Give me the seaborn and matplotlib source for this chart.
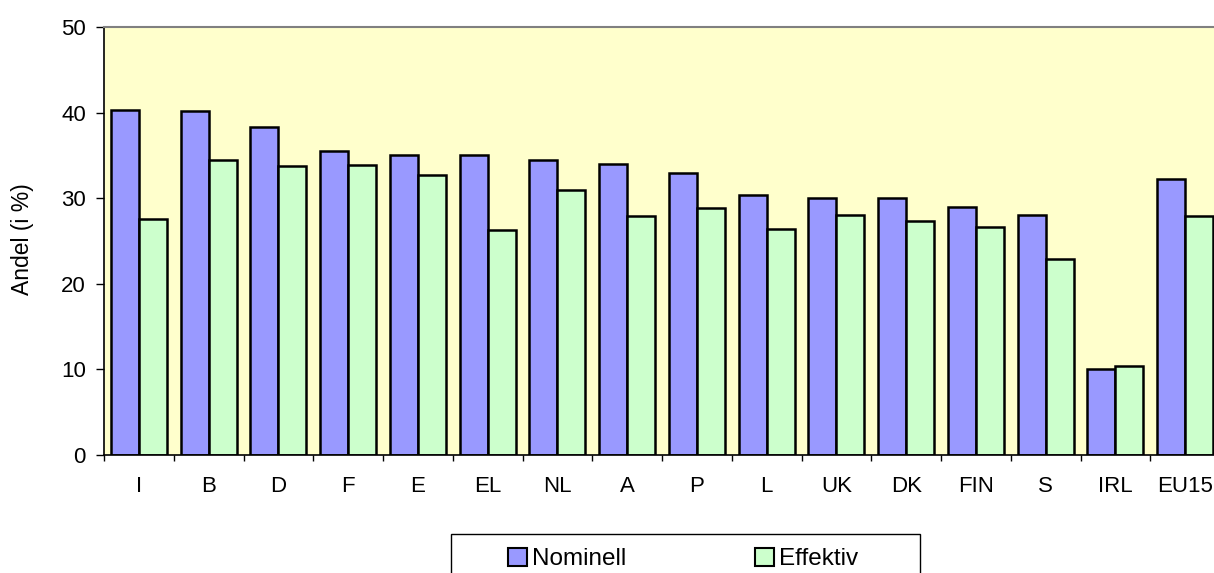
import matplotlib
matplotlib.use("Agg")
import matplotlib.pyplot as plt
from matplotlib.patches import Patch, Rectangle
from matplotlib.ticker import FixedLocator
import numpy as np
import pandas as pd
import seaborn as sns

# data
countries = ["I", "B", "D", "F", "E", "EL", "NL", "A", "P", "L", "UK", "DK", "FIN", "S", "IRL", "EU15"]
nominell = [40.3, 40.2, 38.3, 35.5, 35.0, 35.0, 34.5, 34.0, 33.0, 30.4, 30.0, 30.0, 29.0, 28.0, 10.0, 32.2]
effektiv = [27.6, 34.5, 33.8, 33.9, 32.7, 26.3, 30.9, 27.9, 28.8, 26.4, 28.0, 27.3, 26.6, 22.9, 10.4, 27.9]
series = ["Nominell", "Effektiv"]
colors = ["#9999FF", "#CCFFCC"]

df = pd.DataFrame({
    "land": countries * 2,
    "serie": [series[0]] * len(countries) + [series[1]] * len(countries),
    "andel": nominell + effektiv,
})

sns.set_style("white")
plt.rcParams["font.family"] = ["Liberation Sans", "DejaVu Sans"]
for key in ["text.color", "axes.labelcolor", "xtick.color", "ytick.color"]:
    plt.rcParams[key] = "black"

W, H = 1214, 573
fig = plt.figure(figsize=(W / 100, H / 100), dpi=100)
ax = fig.add_axes([104 / W, 1 - 455 / H, (1220 - 104) / W, (455 - 27) / H])
ax.set_facecolor("#FFFFCC")

sns.barplot(data=df, x="land", y="andel", hue="serie", order=countries,
            hue_order=series, palette=colors, edgecolor="black", linewidth=1.8,
            width=0.8, saturation=1, legend=False, ax=ax)

ax.set_xlim(-0.5, len(countries) - 0.5)
ax.set_ylim(0, 50)
ax.set_yticks(range(0, 51, 10))
ax.set_xlabel("")
ax.set_ylabel("")

# ticks: labels at centres, tick marks at category boundaries
ax.xaxis.set_minor_locator(FixedLocator(np.arange(-0.5, len(countries), 1)))
ax.tick_params(axis="x", which="major", length=0, pad=15, labelsize=16)
ax.tick_params(axis="x", which="minor", length=4.5, width=1, color="black", direction="out", bottom=True)
ax.tick_params(axis="y", length=6, width=1, color="black", direction="out", left=True, pad=7, labelsize=16)

for side in ["left", "bottom"]:
    ax.spines[side].set_color("black")
    ax.spines[side].set_linewidth(1.2)
for side in ["top", "right"]:
    ax.spines[side].set_color("#808080")
    ax.spines[side].set_linewidth(1.5)

fig.text(22 / W, 1 - 239 / H, "Andel (i %)", rotation=90, ha="center", va="center", fontsize=16.5)

# legend box at the bottom
fig.patches.append(Rectangle((451 / W, 1 - 590 / H), (920 - 451) / W, (590 - 534) / H,
                             transform=fig.transFigure, facecolor="white",
                             edgecolor="black", linewidth=1.0, clip_on=False))
handles = [Patch(facecolor=c, edgecolor="black", linewidth=1.5, label=s) for c, s in zip(colors, series)]
fig.legend(handles=handles, loc="center", bbox_to_anchor=(683 / W, 1 - 559 / H), ncol=2,
           frameon=False, fontsize=17.5, handlelength=0.8, handleheight=0.8,
           handletextpad=0.2, columnspacing=5.3, borderpad=0)

fig.savefig("out.png", dpi=100)
